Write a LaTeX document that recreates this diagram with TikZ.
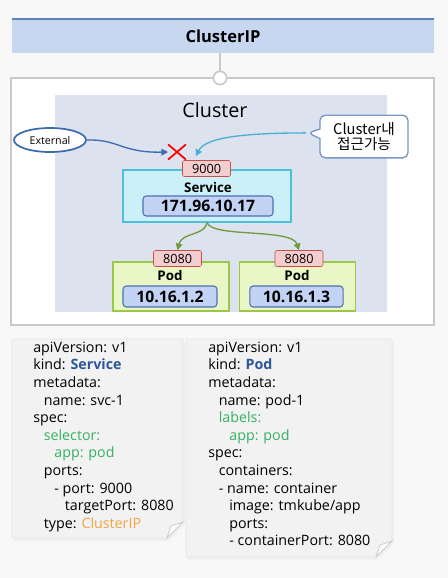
\documentclass[tikz,border=0pt]{standalone}
\usepackage{fontspec}
\setmainfont{Open Sans}
\newfontfamily\krfont{Noto Sans CJK KR}
\usetikzlibrary{shapes.geometric,shapes.callouts,arrows.meta}

\definecolor{pagebg}{HTML}{F8F8F8}
\definecolor{titlefill}{HTML}{C6D7EF}
\definecolor{titleline}{HTML}{5B82BA}
\definecolor{framegray}{HTML}{C9C9C9}
\definecolor{clusterbg}{HTML}{DCE3EE}
\definecolor{svcfill}{HTML}{CCF0F8}
\definecolor{svcline}{HTML}{4DBFD9}
\definecolor{ipfill}{HTML}{C2D3F5}
\definecolor{ipline}{HTML}{4C71B3}
\definecolor{portfill}{HTML}{F4CECE}
\definecolor{portline}{HTML}{C2504D}
\definecolor{podfill}{HTML}{E9F6C6}
\definecolor{podline}{HTML}{9CC84A}
\definecolor{greenarrow}{HTML}{709C3E}
\definecolor{extblue}{HTML}{3F6BAF}
\definecolor{cyanarrow}{HTML}{4BB0D0}
\definecolor{notefill}{HTML}{F2F2F2}
\definecolor{kindblue}{HTML}{2D5698}
\definecolor{selgreen}{HTML}{35B262}
\definecolor{typeorange}{HTML}{F2A343}

\newcommand{\yind}{\hspace*{7.9pt}}

\begin{document}
\begin{tikzpicture}[x=0.75pt,y=-0.75pt,
  box/.style={draw,rectangle,inner sep=0pt},
  port/.style={box,draw=portline,fill=portfill,rounded corners=1.5pt,minimum width=36pt,minimum height=12pt,font=\fontsize{9.5}{10}\selectfont},
  ipbox/.style={box,draw=ipline,fill=ipfill,rounded corners=2.5pt,line width=0.8pt,font=\fontsize{11.8}{13}\selectfont\bfseries},
  podbox/.style={box,draw=podline,fill=podfill,line width=0.8pt,minimum width=87pt,minimum height=36.75pt},
  boxlabel/.style={font=\fontsize{10}{12}\selectfont\bfseries,inner sep=0pt},
  flow/.style={-{Triangle[length=5pt,width=5pt]},line width=1pt},
  note/.style={fill=notefill,draw=black!10,line width=0.6pt},
  yaml/.style={anchor=north west,align=left,inner sep=0pt,font=\fontsize{10.7}{13.2}\selectfont}]

\path[use as bounding box,fill=pagebg] (0,0) rectangle (448,578);

% title bar
\node[box,draw=none,fill=titlefill,minimum width=316.5pt,minimum height=25.5pt,font=\fontsize{12.4}{14}\selectfont\bfseries] (title) at (223,36) {ClusterIP};
\draw[titleline,line width=1.2pt] (title.north west) -- (title.north east);

% cluster frame
\draw[framegray,line width=1.5pt,fill=white] (11,78) rectangle (434,325);
\fill[clusterbg] (55,95) rectangle (387,312);
\node[circle,draw=framegray,line width=1.2pt,fill=white,minimum size=10pt,inner sep=0pt] (knob) at (220,78) {};
\draw[framegray,line width=1pt] (title.south -| knob) -- (knob);
\node[font=\fontsize{14.8}{17}\selectfont] (cluster) at (215,110) {Cluster};

% outside / inside access
\node[ellipse,draw=extblue,line width=1.3pt,fill=white,minimum width=54pt,minimum height=18pt,inner sep=0pt,font=\fontsize{8}{9}\selectfont] (ext) at (50,140) {External};
\node[minimum width=13pt,minimum height=11pt,inner sep=0pt] (xmark) at (177,152) {};
\draw[red,line width=1.3pt] (xmark.north west) -- (xmark.south east) (xmark.north east) -- (xmark.south west);
\node[rectangle callout,draw=extblue!70,fill=white,rounded corners=4pt,line width=1pt,minimum width=66pt,minimum height=32pt,align=center,font=\krfont\fontsize{11}{11.4}\selectfont,callout absolute pointer={(308,133)}] (inside) at (364,136.5) {Cluster내\\접근가능};

% service
\node[box,draw=svcline,fill=svcfill,line width=0.8pt,minimum width=126pt,minimum height=39pt] (svc) at (207,196) {};
\node[boxlabel] (svclabel) at (208,187) {Service};
\node[ipbox,minimum width=97.5pt,minimum height=15pt] (svcip) at (208,206) {171.96.10.17};
\node[port] (p9000) at (206.5,168.5) {9000};

\draw[flow,extblue] (ext.east) .. controls (118,139) and (122,153) .. (xmark.west);
\draw[flow,cyanarrow] (inside.pointer) .. controls (240,133) and (205,138) .. ([xshift=-8pt,yshift=3pt]p9000.north);

% pods
\node[podbox] (pod1) at (171,286.5) {};
\node[podbox] (pod2) at (297.5,286.5) {};
\node[boxlabel] (pod1label) at (170,275) {Pod};
\node[boxlabel] (pod2label) at (297,275) {Pod};
\node[ipbox,minimum width=70.5pt,minimum height=15.75pt] (pod1ip) at (170,296.5) {10.16.1.2};
\node[ipbox,minimum width=70pt,minimum height=15.75pt] (pod2ip) at (296.5,296.5) {10.16.1.3};
\node[port] (p8080a) at (177.5,258.5) {8080};
\node[port] (p8080b) at (299,258.5) {8080};

\draw[flow,greenarrow] (svc.south) .. controls (205,236) and (182,232) .. (p8080a.north);
\draw[flow,greenarrow] (svc.south) .. controls (212,238) and (292,228) .. (p8080b.north);

% yaml notes
\fill[black!6] (14,342) -- (185,342) -- (185,524) -- (169,541) -- (14,541) -- cycle;
\filldraw[note] (12,339) -- (183,339) -- (183,522) -- (167,538) -- (12,538) -- cycle;
\filldraw[fill=white,draw=black!20,line width=0.6pt] (167,538) -- (171,526) -- (183,522) -- cycle;
\fill[black!6] (188,342) -- (394,342) -- (394,543) -- (378,560) -- (188,560) -- cycle;
\filldraw[note] (186,339) -- (392,339) -- (392,541) -- (376,557) -- (186,557) -- cycle;
\filldraw[fill=white,draw=black!20,line width=0.6pt] (376,557) -- (380,545) -- (392,541) -- cycle;

\node[yaml] (svcyaml) at (33,341.5) {apiVersion: v1\\kind: \textcolor{kindblue}{\bfseries Service}\\metadata:\\\yind name: svc-1\\spec:\\\yind\textcolor{selgreen}{selector:}\\\yind\yind\textcolor{selgreen}{app: pod}\\\yind ports:\\\yind\yind- port: 9000\\\yind\yind\yind targetPort: 8080\\\yind type: \textcolor{typeorange}{ClusterIP}};
\node[yaml] (podyaml) at (208,341.5) {apiVersion: v1\\kind: \textcolor{kindblue}{\bfseries Pod}\\metadata:\\\yind name: pod-1\\\yind\textcolor{selgreen}{labels:}\\\yind\yind\textcolor{selgreen}{app: pod}\\spec:\\\yind containers:\\\yind- name: container\\\yind\yind image: tmkube/app\\\yind\yind ports:\\\yind\yind- containerPort: 8080};
\end{tikzpicture}
\end{document}
